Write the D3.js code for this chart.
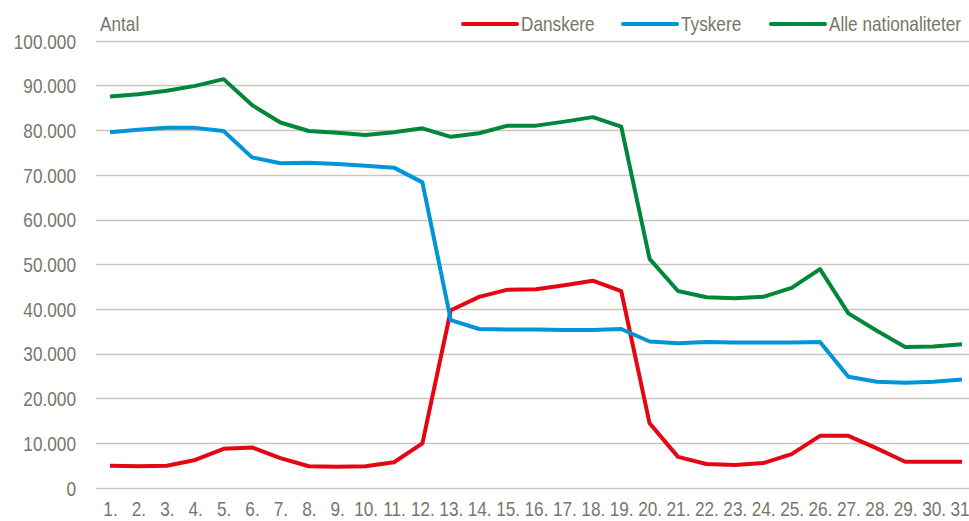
<!DOCTYPE html>
<html><head><meta charset="utf-8">
<script src="https://cdn.jsdelivr.net/npm/d3@7"></script>
<style>
html,body{margin:0;padding:0;background:#fff;}
svg text{font-family:"Liberation Sans",Arial,sans-serif;fill:#77766a;font-size:21px;}
</style></head><body>
<svg id="c" width="969" height="521"></svg>
<script>
const days = d3.range(1, 32).map(d => d + ".");
const danskere = [4.9,4.8,4.9,6.2,8.7,9.0,6.6,4.8,4.7,4.8,5.7,9.9,39.7,42.7,44.3,44.4,45.3,46.3,44.0,14.4,6.9,5.3,5.1,5.5,7.5,11.6,11.6,8.8,5.8,5.8,5.8].map(v=>v*1000);
const tyskere = [79.5,80.1,80.5,80.5,79.8,73.9,72.6,72.7,72.4,72.0,71.6,68.3,37.5,35.5,35.4,35.4,35.3,35.3,35.5,32.7,32.3,32.6,32.5,32.5,32.5,32.6,24.8,23.7,23.5,23.7,24.2].map(v=>v*1000);
const alle = [87.5,88.0,88.8,89.9,91.4,85.6,81.7,79.8,79.4,78.9,79.5,80.4,78.5,79.3,81.0,81.0,81.9,82.9,80.8,51.2,44.0,42.6,42.4,42.7,44.7,48.9,39.0,35.1,31.5,31.6,32.1].map(v=>v*1000);
const yTicks = [0,10000,20000,30000,40000,50000,60000,70000,80000,90000,100000];
const seriesNames = ["Danskere","Tyskere","Alle nationaliteter"];
const colors = ["#e30613","#0094d8","#00873b"];
const seriesData = [danskere, tyskere, alle];

// emulate a narrow font (horizontal squeeze)
const narrow = 0.82;

const svg = d3.select("#c");
const x = d3.scalePoint().domain(days).range([110, 962]);
const y = d3.scaleLinear().domain([0, 100000]).range([487.7, 40.7]);
const fmt = v => d3.format(",")(v).replace(/,/g, ".");

// gridlines
svg.append("g").selectAll("line").data(yTicks).join("line")
  .attr("x1", 96).attr("x2", 969)
  .attr("y1", d => Math.round(y(d)) + 0.5).attr("y2", d => Math.round(y(d)) + 0.5)
  .attr("stroke", "#c9c7bb").attr("stroke-width", 1.5);

// y axis labels
const yAxis = d3.axisLeft(y).tickValues(yTicks).tickFormat(fmt).tickSize(0).tickPadding(0);
const ya = svg.append("g").attr("transform", "translate(76,0)").call(yAxis);
ya.select(".domain").remove();
ya.selectAll("text").attr("font-size", null).attr("font-family", null).attr("fill", "#77766a")
  .attr("x", 0).attr("dy", "0.35em").attr("transform", `scale(${narrow},1)`);
ya.attr("font-size", null).attr("font-family", null);

// x axis labels
const xAxis = d3.axisBottom(x).tickSize(0).tickPadding(0);
const xa = svg.append("g").call(xAxis);
xa.attr("font-size", null).attr("font-family", null);
xa.select(".domain").remove();
xa.selectAll("text").attr("fill", "#77766a")
  .attr("y", 516).attr("dy", 0).attr("transform", `scale(${narrow},1)`);

// Antal
svg.append("g").attr("transform", "translate(100,31)")
  .append("text").attr("transform", `scale(${narrow},1)`).text("Antal");

// lines
const line = d3.line().x((d, i) => x(days[i])).y(d => y(d));
seriesData.forEach((s, k) => {
  svg.append("path").datum(s).attr("d", line).attr("fill", "none")
    .attr("stroke", colors[k]).attr("stroke-width", 4).attr("stroke-linejoin", "round");
});

// legend
const legX = [463, 623, 771];
seriesNames.forEach((n, k) => {
  const g = svg.append("g").attr("transform", `translate(${legX[k]},24)`);
  g.append("line").attr("x1", 0).attr("x2", 54).attr("stroke", colors[k]).attr("stroke-width", 4).attr("stroke-linecap", "round");
  g.append("g").attr("transform", "translate(58,0)")
    .append("text").attr("dy", "0.35em").attr("transform", `scale(${narrow},1)`).text(n);
});
</script>
</body></html>
